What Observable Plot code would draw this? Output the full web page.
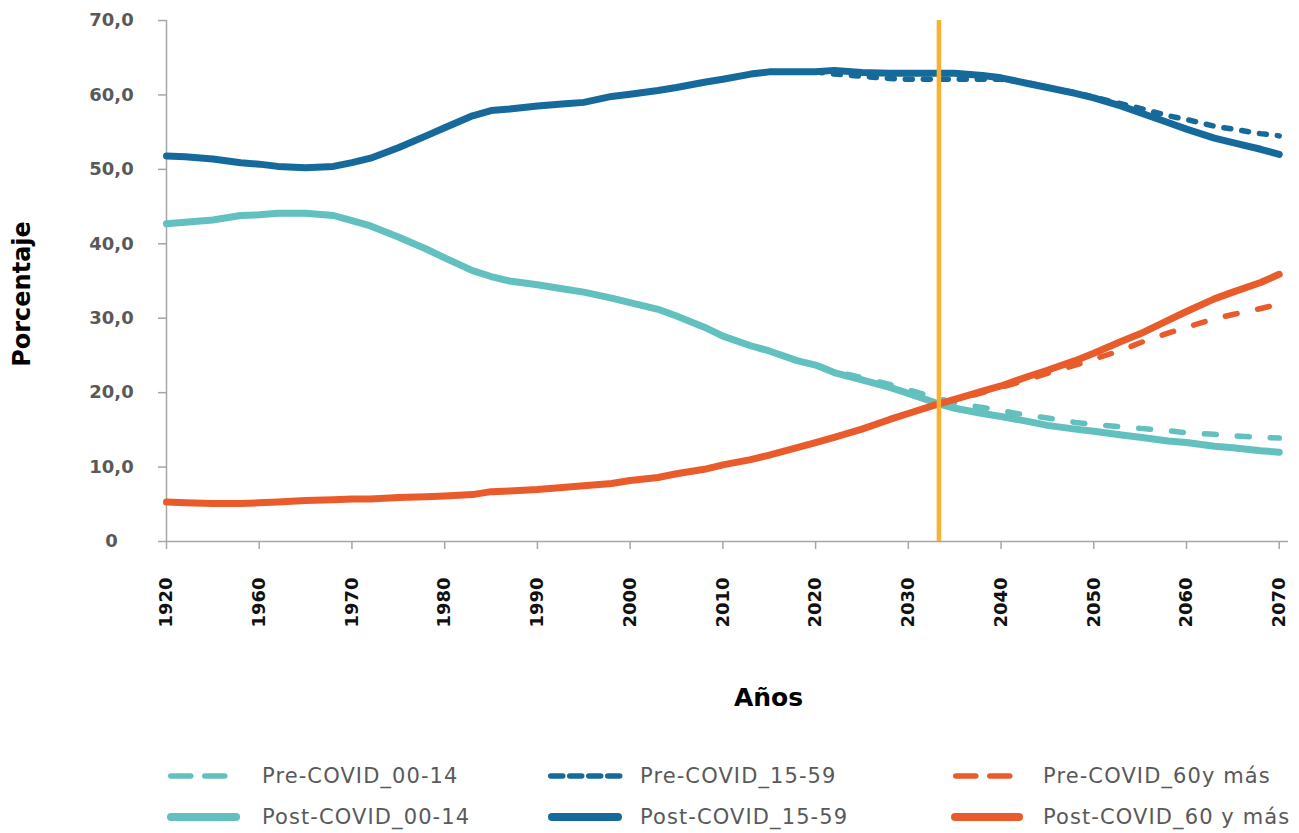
<!DOCTYPE html>
<html>
<head>
<meta charset="utf-8">
<script src="https://cdn.jsdelivr.net/npm/d3@7"></script>
<script src="https://cdn.jsdelivr.net/npm/@observablehq/plot@0.6"></script>
<style>
  body { margin: 0; background: #fff; }
  #wrap { position: relative; width: 1299px; height: 833px; font-family: "DejaVu Sans", sans-serif; }
  .leg { position: absolute; display: flex; align-items: center; font-size: 21px; color: #595959; letter-spacing: 1.1px; white-space: nowrap; }
  .leg svg { display: block; }
</style>
</head>
<body>
<div id="wrap"></div>
<script>
// ---------- data ----------
const years = [1950,1952,1955,1958,1960,1962,1965,1968,1970,1972,1975,1978,1980,1983,1985,1987,1990,1993,1995,1998,2000,2003,2005,2008,2010,2013,2015,2018,2020,2022,2025,2028,2030,2033,2035,2038,2040,2043,2045,2048,2050,2053,2055,2058,2060,2063,2065,2068,2070];
const post0014 = [42.7,42.9,43.2,43.8,43.9,44.1,44.1,43.8,43.1,42.4,40.9,39.3,38.1,36.4,35.6,35.0,34.5,33.9,33.5,32.7,32.1,31.2,30.3,28.8,27.6,26.3,25.6,24.3,23.7,22.7,21.7,20.7,19.9,18.6,17.9,17.2,16.8,16.1,15.6,15.1,14.8,14.3,14.0,13.5,13.3,12.8,12.6,12.2,12.0];
const post1559 = [51.8,51.7,51.4,50.9,50.7,50.4,50.2,50.4,50.9,51.5,52.9,54.5,55.6,57.2,57.9,58.1,58.5,58.8,59.0,59.8,60.1,60.6,61.0,61.7,62.1,62.8,63.1,63.1,63.1,63.3,63.0,62.9,62.9,62.9,62.9,62.6,62.3,61.5,61.0,60.2,59.6,58.5,57.6,56.3,55.4,54.2,53.6,52.7,52.0];
const post60 = [5.3,5.2,5.1,5.1,5.2,5.3,5.5,5.6,5.7,5.7,5.9,6.0,6.1,6.3,6.7,6.8,7.0,7.3,7.5,7.8,8.2,8.6,9.1,9.7,10.3,11.0,11.6,12.6,13.3,14.0,15.1,16.4,17.2,18.4,19.1,20.2,20.9,22.2,23.0,24.3,25.3,26.9,27.9,29.7,30.9,32.6,33.5,34.8,35.9];

const preYears = [2020,2022,2025,2028,2030,2033,2035,2038,2040,2043,2045,2048,2050,2053,2055,2058,2060,2063,2065,2068,2070];
const pre0014 = [23.7,22.9,22.0,21.1,20.4,19.3,18.6,18.0,17.6,16.9,16.6,16.0,15.7,15.4,15.2,14.9,14.6,14.4,14.2,14.0,13.9];
const pre1559 = [63.1,62.8,62.5,62.2,62.1,62.1,62.1,62.1,62.1,61.6,61.0,60.3,59.7,58.8,58.2,57.2,56.7,55.8,55.4,54.8,54.5];
const pre60 = [13.3,14.0,15.1,16.4,17.2,18.4,19.0,20.0,20.7,21.8,22.6,23.7,24.5,25.7,26.7,28.0,28.8,29.9,30.5,31.3,31.9];

const markerYear = [2033.3];
const xTickYears = [1950,1960,1970,1980,1990,2000,2010,2020,2030,2040,2050,2060,2070];
const xTickLabels = ["1920","1960","1970","1980","1990","2000","2010","2020","2030","2040","2050","2060","2070"];
const yTicks = [0,10,20,30,40,50,60,70];

const seriesNames = ["Pre-COVID_00-14","Pre-COVID_15-59","Pre-COVID_60y más","Post-COVID_00-14","Post-COVID_15-59","Post-COVID_60 y más"];
const colors = {teal: "#62C0BE", blue: "#156A9B", orange: "#EA5B2B", marker: "#F8B133", axis: "#A6A6A6"};

function rows(ys, vs, name) { return ys.map((y, i) => ({serie: name, year: y, value: vs[i]})); }
const dPre0014 = rows(preYears, pre0014, seriesNames[0]);
const dPre1559 = rows(preYears, pre1559, seriesNames[1]);
const dPre60 = rows(preYears, pre60, seriesNames[2]);
const dPost0014 = rows(years, post0014, seriesNames[3]);
const dPost1559 = rows(years, post1559, seriesNames[4]);
const dPost60 = rows(years, post60, seriesNames[5]);

const fmtY = d => d === 0 ? "0" : d.toFixed(1).replace(".", ",");

const lineOpts = (stroke, w, dash) => ({x: "year", y: "value", stroke, strokeWidth: w, strokeLinecap: "round", strokeLinejoin: "round", strokeDasharray: dash});

const chart = Plot.plot({
  width: 1299,
  height: 740,
  marginLeft: 166,
  marginRight: 11,
  marginTop: 20,
  marginBottom: 199,
  x: {domain: [1950, 2071], axis: null},
  y: {domain: [0, 70], axis: null},
  style: {fontFamily: "'DejaVu Sans', sans-serif", background: "#fff", overflow: "visible"},
  marks: [
    Plot.ruleY([0], {x1: 1950, x2: 2071, stroke: colors.axis, strokeWidth: 1.5}),
    Plot.ruleX([1950], {y1: 0, y2: 70, stroke: colors.axis, strokeWidth: 1.5}),
    Plot.axisY(yTicks, {anchor: "left", tickSize: 8, tickPadding: 47, textAnchor: "middle", tickFormat: fmtY, fontSize: 18, fontWeight: "bold", fill: "#595959", stroke: colors.axis, strokeWidth: 1.5, label: null}),
    Plot.axisX(xTickYears, {anchor: "bottom", tickSize: 8, tickPadding: 28, tickRotate: -90, tickFormat: d => xTickLabels[xTickYears.indexOf(d)], fontSize: 18, fontWeight: "bold", fill: "#111", stroke: colors.axis, strokeWidth: 1.5, label: null}),
    Plot.line(dPre0014, lineOpts(colors.teal, 5.5, "12,21")),
    Plot.line(dPre1559, lineOpts(colors.blue, 5.5, "7,11")),
    Plot.line(dPre60, lineOpts(colors.orange, 5.5, "12,21")),
    Plot.line(dPost0014, lineOpts(colors.teal, 7)),
    Plot.line(dPost1559, lineOpts(colors.blue, 7)),
    Plot.line(dPost60, lineOpts(colors.orange, 7)),
    Plot.ruleX(markerYear, {y1: 0, y2: 70, stroke: colors.marker, strokeWidth: 4.5}),
    Plot.text(["Porcentaje"], {frameAnchor: "left", textAnchor: "middle", lineAnchor: "middle", dx: -144, dy: 13, rotate: -90, fontSize: 24, fontWeight: "bold", fill: "#000"}),
    Plot.text(["Años"], {frameAnchor: "bottom", textAnchor: "middle", lineAnchor: "middle", dx: 41, dy: 156, fontSize: 25, fontWeight: "bold", fill: "#000"})
  ]
});

const wrap = document.getElementById("wrap");
wrap.appendChild(chart);

// ---------- legend ----------
const legendItems = [
  {name: seriesNames[0], color: colors.teal, dash: "20,14", w: 5.5, sx: 168, sw: 62, tx: 262, y: 776},
  {name: seriesNames[1], color: colors.blue, dash: "12,7", w: 5.5, sx: 548, sw: 76, tx: 640, y: 776},
  {name: seriesNames[2], color: colors.orange, dash: "20,14", w: 5.5, sx: 953, sw: 60, tx: 1043, y: 776},
  {name: seriesNames[3], color: colors.teal, dash: null, w: 8, sx: 167, sw: 73, tx: 262, y: 817},
  {name: seriesNames[4], color: colors.blue, dash: null, w: 8, sx: 548, sw: 74, tx: 640, y: 817},
  {name: seriesNames[5], color: colors.orange, dash: null, w: 8, sx: 951, sw: 72, tx: 1043, y: 817}
];
legendItems.forEach(it => {
  const sw = document.createElementNS("http://www.w3.org/2000/svg", "svg");
  sw.setAttribute("width", it.sw + 10);
  sw.setAttribute("height", 14);
  sw.style.position = "absolute";
  sw.style.left = (it.sx - 5) + "px";
  sw.style.top = (it.y - 7) + "px";
  const ln = document.createElementNS("http://www.w3.org/2000/svg", "line");
  ln.setAttribute("x1", 5 + it.w / 2);
  ln.setAttribute("x2", 5 + it.sw - it.w / 2);
  ln.setAttribute("y1", 7);
  ln.setAttribute("y2", 7);
  ln.setAttribute("stroke", it.color);
  ln.setAttribute("stroke-width", it.w);
  ln.setAttribute("stroke-linecap", "round");
  if (it.dash) ln.setAttribute("stroke-dasharray", it.dash);
  sw.appendChild(ln);
  wrap.appendChild(sw);
  const t = document.createElement("div");
  t.className = "leg";
  t.textContent = it.name;
  t.style.left = it.tx + "px";
  t.style.top = (it.y - 14) + "px";
  t.style.height = "28px";
  wrap.appendChild(t);
});
</script>
</body>
</html>
